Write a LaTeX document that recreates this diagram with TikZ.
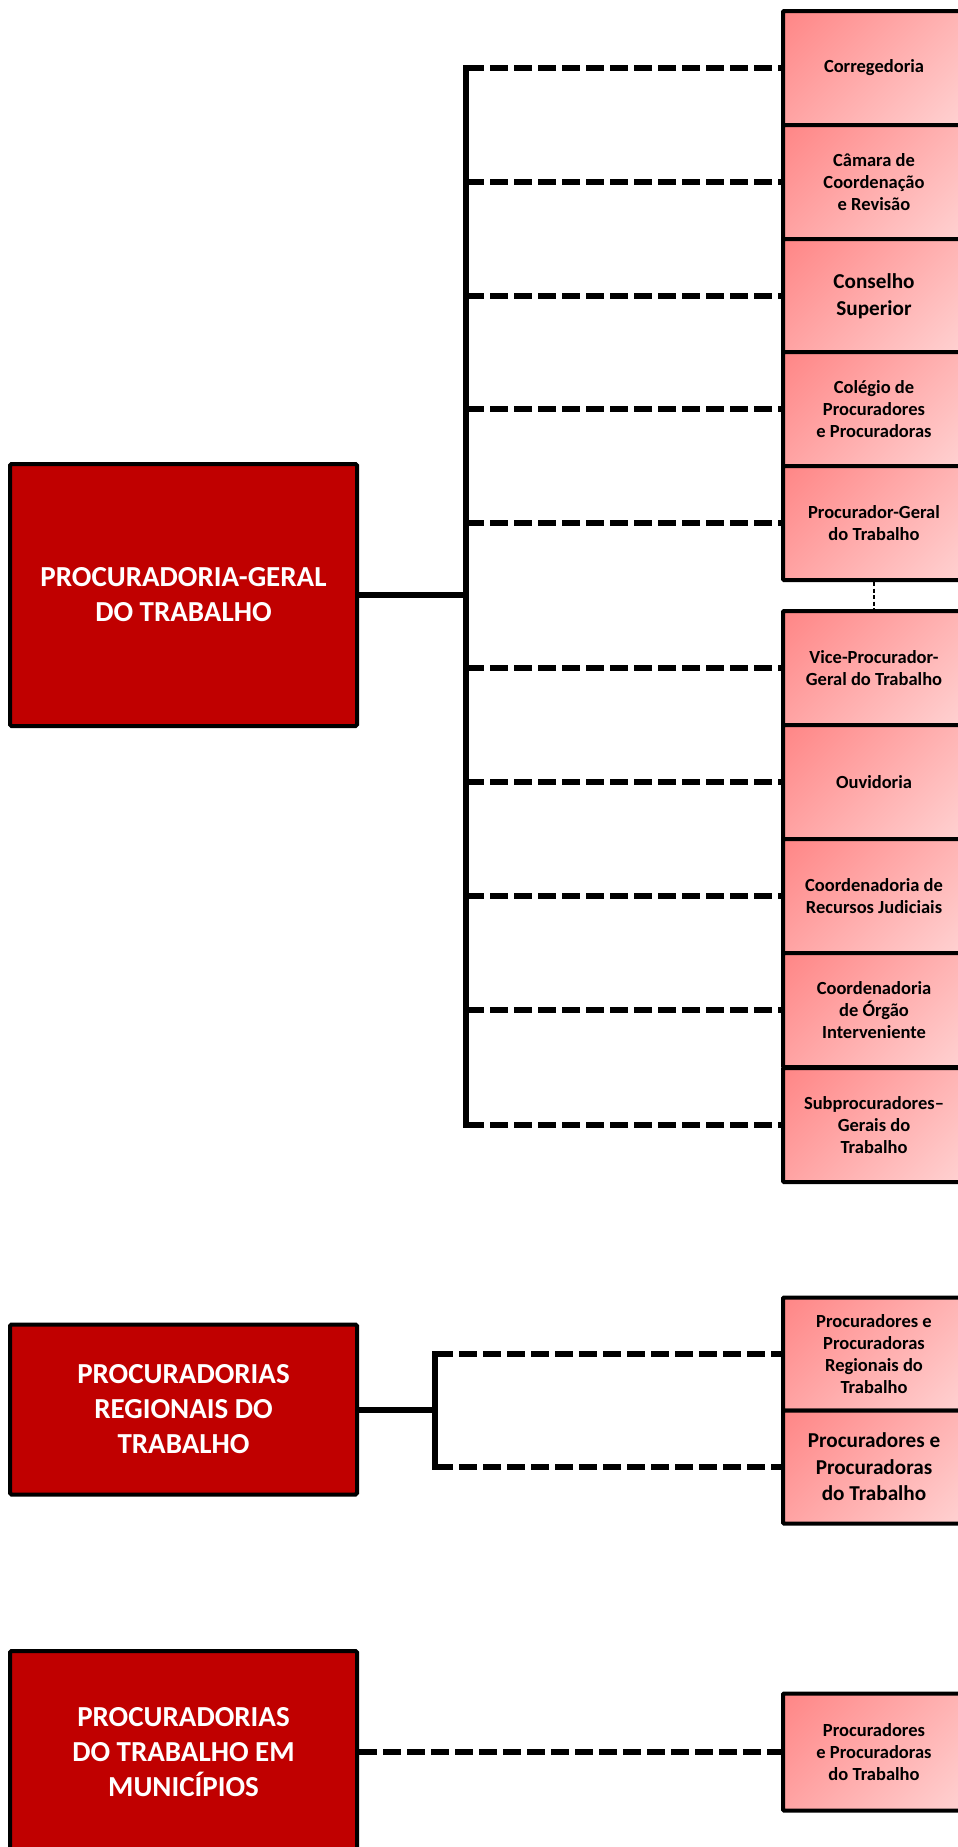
\documentclass[tikz,border=0pt]{standalone}
\usepackage{fontspec}
\setmainfont{Carlito}
\definecolor{pgtred}{HTML}{C00000}
\definecolor{pinkA}{RGB}{255,118,118}
\definecolor{pinkB}{RGB}{255,226,226}
\pgfdeclarehorizontalshading{pinkdiag}{100bp}{color(0bp)=(pinkA); color(100bp)=(pinkB)}
\begin{document}
\begin{tikzpicture}[x=1pt,y=-1pt,
 bigbox/.style={draw, line width=4pt, fill=pgtred, text=white, font=\fontsize{29}{35}\selectfont\bfseries, align=center, minimum width=347pt, inner sep=0pt, rounded corners=1.5pt},
 smallbox/.style={draw, line width=4pt, shading=pinkdiag, shading angle=-45, font=\fontsize{18.5}{21.8}\selectfont\bfseries, align=center, minimum width=182pt, minimum height=114pt, inner sep=0pt, rounded corners=1pt},
 busline/.style={line width=6pt, line cap=rect},
 solidlink/.style={line width=6pt},
 dashlink/.style={line width=6pt, dash pattern=on 17.5pt off 6.5pt},
 thinlink/.style={line width=1.3pt, dash pattern=on 4pt off 2.5pt},
 larger/.style={font=\fontsize{21.2}{26.5}\selectfont\bfseries}]
\useasboundingbox (0,0) rectangle (958,1847);
\fill[white] (0,0) rectangle (958,1847);
\clip (0,0) rectangle (958,1847);

% ---------- left boxes ----------
\node[bigbox, minimum height=262pt] (pgt) at (183.5,595) {PROCURADORIA-GERAL\\DO TRABALHO};
\node[bigbox, minimum height=170pt] (prt) at (183.5,1409.5) {PROCURADORIAS\\REGIONAIS DO\\TRABALHO};
\node[bigbox, minimum height=202pt] (ptm) at (183.5,1752) {PROCURADORIAS\\DO TRABALHO EM\\MUNICÍPIOS};

% ---------- right boxes, group 1 ----------
\node[smallbox] (cor) at (874,68) {Corregedoria};
\node[smallbox] (cam) at (874,182) {Câmara de\\Coordenação\\e Revisão};
\node[smallbox, larger] (cons) at (874,296) {Conselho\\Superior};
\node[smallbox] (col) at (874,409) {Colégio de\\Procuradores\\e Procuradoras};
\node[smallbox] (pg) at (874,523) {Procurador-Geral\\do Trabalho};

\node[smallbox] (vice) at (874,668) {Vice-Procurador-\\Geral do Trabalho};
\node[smallbox] (ouv) at (874,782) {Ouvidoria};
\node[smallbox] (crj) at (874,896) {Coordenadoria de\\Recursos Judiciais};
\node[smallbox] (coi) at (874,1010) {Coordenadoria\\de Órgão\\Interveniente};
\node[smallbox] (sub) at (874,1125) {Subprocuradores–\\Gerais do\\Trabalho};

% ---------- right boxes, group 2 ----------
\node[smallbox, minimum height=113pt] (prr) at (874,1354) {Procuradores e\\Procuradoras\\Regionais do\\Trabalho};
\node[smallbox, larger, minimum height=113pt] (prtb) at (874,1467) {Procuradores e\\Procuradoras\\do Trabalho};

% ---------- right box, group 3 ----------
\node[smallbox, minimum height=117pt] (ptmsub) at (874,1752) {Procuradores\\e Procuradoras\\do Trabalho};

% ---------- connectors group 1 ----------
\coordinate (bustop) at (466,68);
\coordinate (busbot) at (466,1125);
\draw[busline] (bustop) -- (busbot);
\draw[solidlink] (pgt.east) -- (pgt.east -| bustop);
\foreach \n in {cor,cam,cons,col,pg,vice,ouv,crj,coi,sub}
  \draw[dashlink] (\n.west -| bustop) -- (\n.west);
\draw[thinlink] (pg.south) -- (vice.north);

% ---------- connectors group 2 ----------
\coordinate (bus2top) at (435,1354);
\coordinate (bus2bot) at (435,1467);
\draw[busline] (bus2top) -- (bus2bot);
\draw[solidlink] (prt.east) -- (prt.east -| bus2top);
\foreach \n in {prr,prtb}
  \draw[dashlink] (\n.west -| bus2top) -- (\n.west);

% ---------- connector group 3 ----------
\draw[dashlink] (ptm.east) -- (ptmsub.west);
\end{tikzpicture}
\end{document}
